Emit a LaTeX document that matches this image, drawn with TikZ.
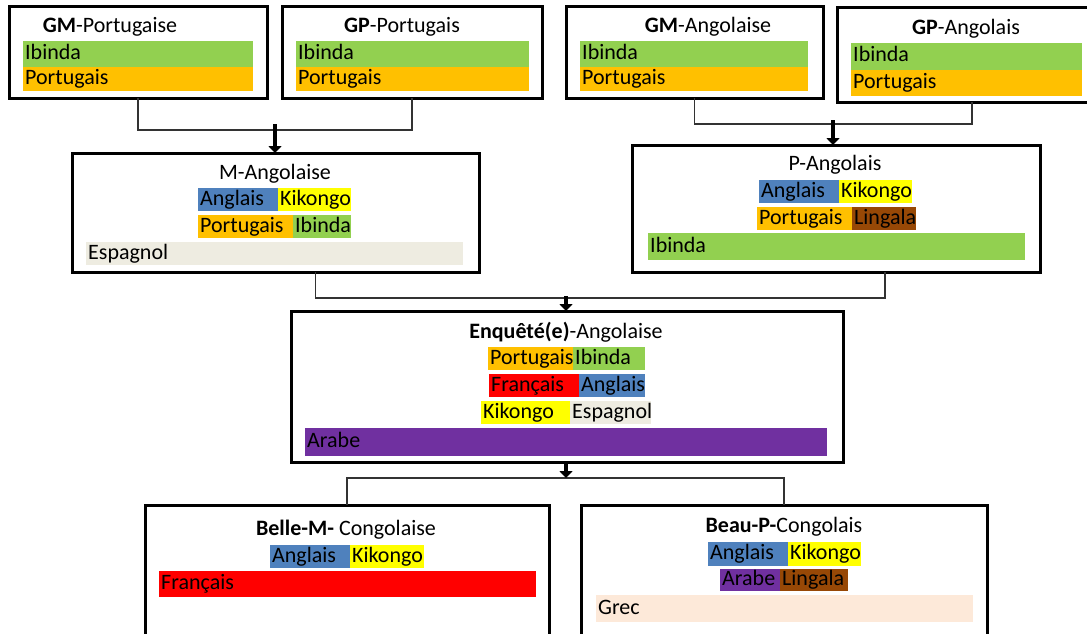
\documentclass[tikz,border=0pt]{standalone}
\usepackage{fontspec}
\setmainfont{Carlito}
\usetikzlibrary{arrows.meta}

\definecolor{cgreen}{HTML}{92D050}
\definecolor{corange}{HTML}{FFC000}
\definecolor{cblue}{HTML}{4F81BD}
\definecolor{cyellow}{HTML}{FFFF00}
\definecolor{cbrown}{HTML}{974806}
\definecolor{cred}{HTML}{FF0000}
\definecolor{cpurple}{HTML}{7030A0}
\definecolor{cgrey}{HTML}{EEECE1}
\definecolor{cpeach}{HTML}{FDE9D9}
\definecolor{cline}{HTML}{333333}

% a coloured language cell: name, colour, x1, y1, x2, y2, text
\newcommand\langcell[7]{%
  \fill[#2] (#3,#4) rectangle (#5,#6);
  \node[lbl] (#1) at (#3,{(#4+#6)/2}) {#7};}

\begin{document}
\begin{tikzpicture}[x=1pt, y=-1pt,
  every node/.style={font=\fontsize{22}{26}\selectfont, text=black},
  person/.style={draw=black, line width=3pt, inner sep=0pt, outer sep=0pt},
  title/.style={inner sep=0pt, anchor=center},
  lbl/.style={anchor=west, inner xsep=2pt, inner ysep=0pt, text height=15pt, text depth=4pt},
  link/.style={draw=cline, line width=1.2pt},
  descend/.style={line width=4.5pt, -{Triangle[width=13pt,length=7pt]}}]

\clip (0,0) rectangle (1087,634);
\fill[white] (0,0) rectangle (1087,634);

% ---------- grandparents ----------
\node[person, minimum width=258pt, minimum height=91pt] (gmp) at (138,52.5) {};
\node[title] (gmpt) at (110,27) {\textbf{GM}-Portugaise};
\langcell{gmp1}{cgreen}{23}{41}{253}{67}{Ibinda}
\langcell{gmp2}{corange}{23}{67}{253}{91}{Portugais}

\node[person, minimum width=260pt, minimum height=91pt] (gpp) at (412,52.5) {};
\node[title] (gppt) at (402,27) {\textbf{GP}-Portugais};
\langcell{gpp1}{cgreen}{296}{41}{529}{67}{Ibinda}
\langcell{gpp2}{corange}{296}{67}{529}{91}{Portugais}

\node[person, minimum width=257pt, minimum height=91pt] (gma) at (694.5,52.5) {};
\node[title] (gmat) at (708,27) {\textbf{GM}-Angolaise};
\langcell{gma1}{cgreen}{580}{41}{808}{67}{Ibinda}
\langcell{gma2}{corange}{580}{67}{808}{91}{Portugais}

\node[person, minimum width=258pt, minimum height=94pt] (gpa) at (966,55) {};
\node[title] (gpat) at (966,29) {\textbf{GP}-Angolais};
\langcell{gpa1}{cgreen}{851}{43}{1082}{70}{Ibinda}
\langcell{gpa2}{corange}{851}{70}{1082}{96}{Portugais}

% ---------- parents ----------
\node[person, minimum width=407pt, minimum height=119pt] (ma) at (275.5,212.5) {};
\node[title] (mat) at (275,174) {M-Angolaise};
\langcell{ma1}{cblue}{198}{188}{278}{211}{Anglais}
\langcell{ma2}{cyellow}{278}{188}{351}{211}{Kikongo}
\langcell{ma3}{corange}{198}{215}{293}{238}{Portugais}
\langcell{ma4}{cgreen}{293}{215}{351}{238}{Ibinda}
\langcell{ma5}{cgrey}{86}{242}{463}{265}{Espagnol}

\node[person, minimum width=408pt, minimum height=127pt] (pa) at (836,208.5) {};
\node[title] (pat) at (835,165) {P-Angolais};
\langcell{pa1}{cblue}{759}{180}{839}{203}{Anglais}
\langcell{pa2}{cyellow}{839}{180}{912}{203}{Kikongo}
\langcell{pa3}{corange}{757}{207}{852}{230}{Portugais}
\langcell{pa4}{cbrown}{852}{207}{916}{230}{Lingala}
\langcell{pa5}{cgreen}{648}{233}{1025}{260}{Ibinda}

% ---------- respondent ----------
\node[person, minimum width=552pt, minimum height=151pt] (en) at (567,386.5) {};
\node[title] (ent) at (566,332) {\textbf{Enquêté(e)}-Angolaise};
\langcell{en1}{corange}{488}{347}{573}{370}{Portugais}
\langcell{en2}{cgreen}{573}{347}{645}{370}{Ibinda}
\langcell{en3}{cred}{489}{374}{579}{397}{Français}
\langcell{en4}{cblue}{579}{374}{645}{397}{Anglais}
\langcell{en5}{cyellow}{481}{401}{570}{424}{Kikongo}
\langcell{en6}{cgrey}{570}{401}{651}{424}{Espagnol}
\langcell{en7}{cpurple}{305}{428}{827}{456}{Arabe}

% ---------- in-laws ----------
\node[person, minimum width=404pt, minimum height=155pt] (bm) at (347,582.5) {};
\node[title] (bmt) at (346,530) {\textbf{Belle-M-} Congolaise};
\langcell{bm1}{cblue}{270}{545}{350}{568}{Anglais}
\langcell{bm2}{cyellow}{350}{545}{424}{568}{Kikongo}
\langcell{bm3}{cred}{159}{571}{536}{597}{Français}

\node[person, minimum width=406pt, minimum height=155pt] (bp) at (784,582.5) {};
\node[title] (bpt) at (784,527) {\textbf{Beau-P-}Congolais};
\langcell{bp1}{cblue}{708}{542}{788}{566}{Anglais}
\langcell{bp2}{cyellow}{788}{542}{861}{566}{Kikongo}
\langcell{bp3}{cpurple}{720}{569}{780}{591}{Arabe}
\langcell{bp4}{cbrown}{780}{569}{848}{591}{Lingala}
\langcell{bp5}{cpeach}{596}{595}{973}{622}{Grec}

% ---------- connectors ----------
\coordinate (j1) at (275,130);
\draw[link] (gmp.south) |- (j1) -| (gpp.south);
\draw[descend] ([yshift=6pt]j1) -- (j1 |- ma.north);

\coordinate (j2) at (833,124);
\draw[link] (gma.south) |- (j2) -| ([xshift=6pt]gpa.south);
\draw[descend] ([yshift=4pt]j2) -- (j2 |- pa.north);

\coordinate (j3) at (566,298);
\draw[link] ([xshift=40pt]ma.south) |- (j3) -| ([xshift=49pt]pa.south);
\draw[descend] ([yshift=2pt]j3) -- (j3 |- en.north);

\coordinate (j4) at (566,478);
\draw[link] (bm.north) |- (j4) -| (bp.north);
\draw[descend] (j4 |- en.south) -- (j4);
\end{tikzpicture}
\end{document}
